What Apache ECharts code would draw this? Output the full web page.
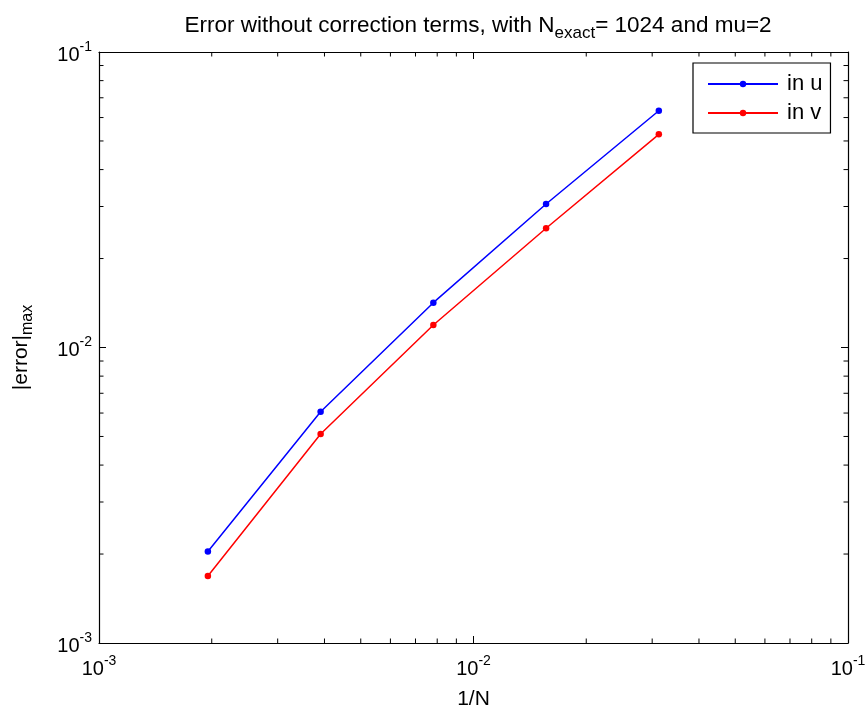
<!DOCTYPE html>
<html>
<head>
<meta charset="utf-8">
<script src="https://cdn.jsdelivr.net/npm/echarts@6/dist/echarts.min.js"></script>
<style>html,body{margin:0;padding:0;background:#fff}#c{width:867px;height:710px}</style>
</head>
<body>
<div id="c"></div>
<script>
const invN = [0.001953125, 0.00390625, 0.0078125, 0.015625, 0.03125];
const errU = [0.00204, 0.00606, 0.01418, 0.03059, 0.06329];
const errV = [0.001685, 0.005096, 0.01192, 0.02532, 0.05266];
const xMinorTicks = [0.002,0.003,0.004,0.005,0.006,0.007,0.008,0.009,0.02,0.03,0.04,0.05,0.06,0.07,0.08,0.09];
const yMinorTicks = [0.002,0.003,0.004,0.005,0.006,0.007,0.008,0.009,0.02,0.03,0.04,0.05,0.06,0.07,0.08,0.09];
const FONT = 'Liberation Sans, Arial, sans-serif';

const chart = echarts.init(document.getElementById('c'), null, {renderer: 'canvas'});

function supLabel(v) {
  const e = Math.round(Math.log10(v));
  return '{b|10}{sup|' + e + '}';
}
const richLab = {
  b: {fontSize: 20, fontFamily: FONT, color: '#000', lineHeight: 26, verticalAlign: 'bottom'},
  sup: {fontSize: 14, fontFamily: FONT, color: '#000', padding: [0, 0, 11, 0], verticalAlign: 'bottom'}
};

const baseAxis = {
  type: 'log', logBase: 10, min: 0.001, max: 0.1,
  axisLine: {onZero: false, lineStyle: {color: '#000', width: 1.2}},
  axisTick: {inside: true, length: 7, lineStyle: {color: '#000'}},
  splitLine: {show: false},
  minorTick: {show: false}
};

function minorTickRender(params, api) {
  const v = api.value(0);
  const axis = api.value(1);
  const L = 4.5;
  const style = {stroke: '#000', lineWidth: 1};
  if (axis === 0) {
    const b = api.coord([v, 0.001]);
    const t = api.coord([v, 0.1]);
    return {type: 'group', children: [
      {type: 'line', shape: {x1: b[0], y1: b[1], x2: b[0], y2: b[1] - L}, style: style},
      {type: 'line', shape: {x1: t[0], y1: t[1], x2: t[0], y2: t[1] + L}, style: style}
    ]};
  } else {
    const l = api.coord([0.001, v]);
    const r = api.coord([0.1, v]);
    return {type: 'group', children: [
      {type: 'line', shape: {x1: l[0], y1: l[1], x2: l[0] + L, y2: l[1]}, style: style},
      {type: 'line', shape: {x1: r[0], y1: r[1], x2: r[0] - L, y2: r[1]}, style: style}
    ]};
  }
}
const minorData = xMinorTicks.map(v => [v, 0]).concat(yMinorTicks.map(v => [v, 1]));

const option = {
  animation: false,
  backgroundColor: '#fff',
  title: {
    text: 'Error without correction terms, with N{sub|exact}= 1024 and mu=2',
    left: 473, top: 5, textAlign: 'center',
    textStyle: {
      fontSize: 22.5, fontWeight: 'normal', fontFamily: FONT, color: '#000',
      rich: {
        sub: {fontSize: 17, fontFamily: FONT, color: '#000', padding: [15, 0, 0, 0]}
      }
    }
  },
  grid: {left: 99, right: 19, top: 52, bottom: 67, containLabel: false, outerBoundsMode: 'none'},
  legend: {
    data: ['in u', 'in v'],
    orient: 'vertical',
    left: 693, top: 63,
    padding: [10, 8, 9, 14],
    itemWidth: 70, itemHeight: 8, itemGap: 7,
    borderColor: '#000', borderWidth: 1.2,
    backgroundColor: '#fff',
    textStyle: {fontSize: 22, fontFamily: FONT, color: '#000', padding: [0, 0, 0, 4]}
  },
  xAxis: [
    Object.assign({}, baseAxis, {
      position: 'bottom',
      name: '1/N', nameLocation: 'middle', nameGap: 46,
      nameTextStyle: {fontSize: 21, fontFamily: FONT, color: '#000'},
      axisLabel: {formatter: supLabel, rich: richLab, margin: 10}
    }),
    Object.assign({}, baseAxis, {position: 'top', axisLabel: {show: false}})
  ],
  yAxis: [
    Object.assign({}, baseAxis, {
      position: 'left',
      name: '|error|{sub|max}', nameLocation: 'middle', nameGap: 63, nameRotate: 90,
      nameTextStyle: {fontSize: 21, fontFamily: FONT, color: '#000',
        rich: {sub: {fontSize: 16, fontFamily: FONT, color: '#000', padding: [14, 0, 0, 0]}}},
      axisLabel: {formatter: supLabel, rich: richLab, margin: 7}
    }),
    Object.assign({}, baseAxis, {position: 'right', axisLabel: {show: false}})
  ],
  series: [
    {
      name: 'in u', type: 'line',
      data: invN.map((x, i) => [x, errU[i]]),
      symbol: 'circle', symbolSize: 6.5,
      lineStyle: {color: '#0000ff', width: 1.5},
      itemStyle: {color: '#0000ff'}
    },
    {
      name: 'in v', type: 'line',
      data: invN.map((x, i) => [x, errV[i]]),
      symbol: 'circle', symbolSize: 6.5,
      lineStyle: {color: '#ff0000', width: 1.5},
      itemStyle: {color: '#ff0000'}
    },
    {
      name: 'minorTicks', type: 'custom',
      renderItem: minorTickRender,
      data: minorData,
      silent: true, z: 1
    }
  ]
};
chart.setOption(option);
</script>
</body>
</html>
